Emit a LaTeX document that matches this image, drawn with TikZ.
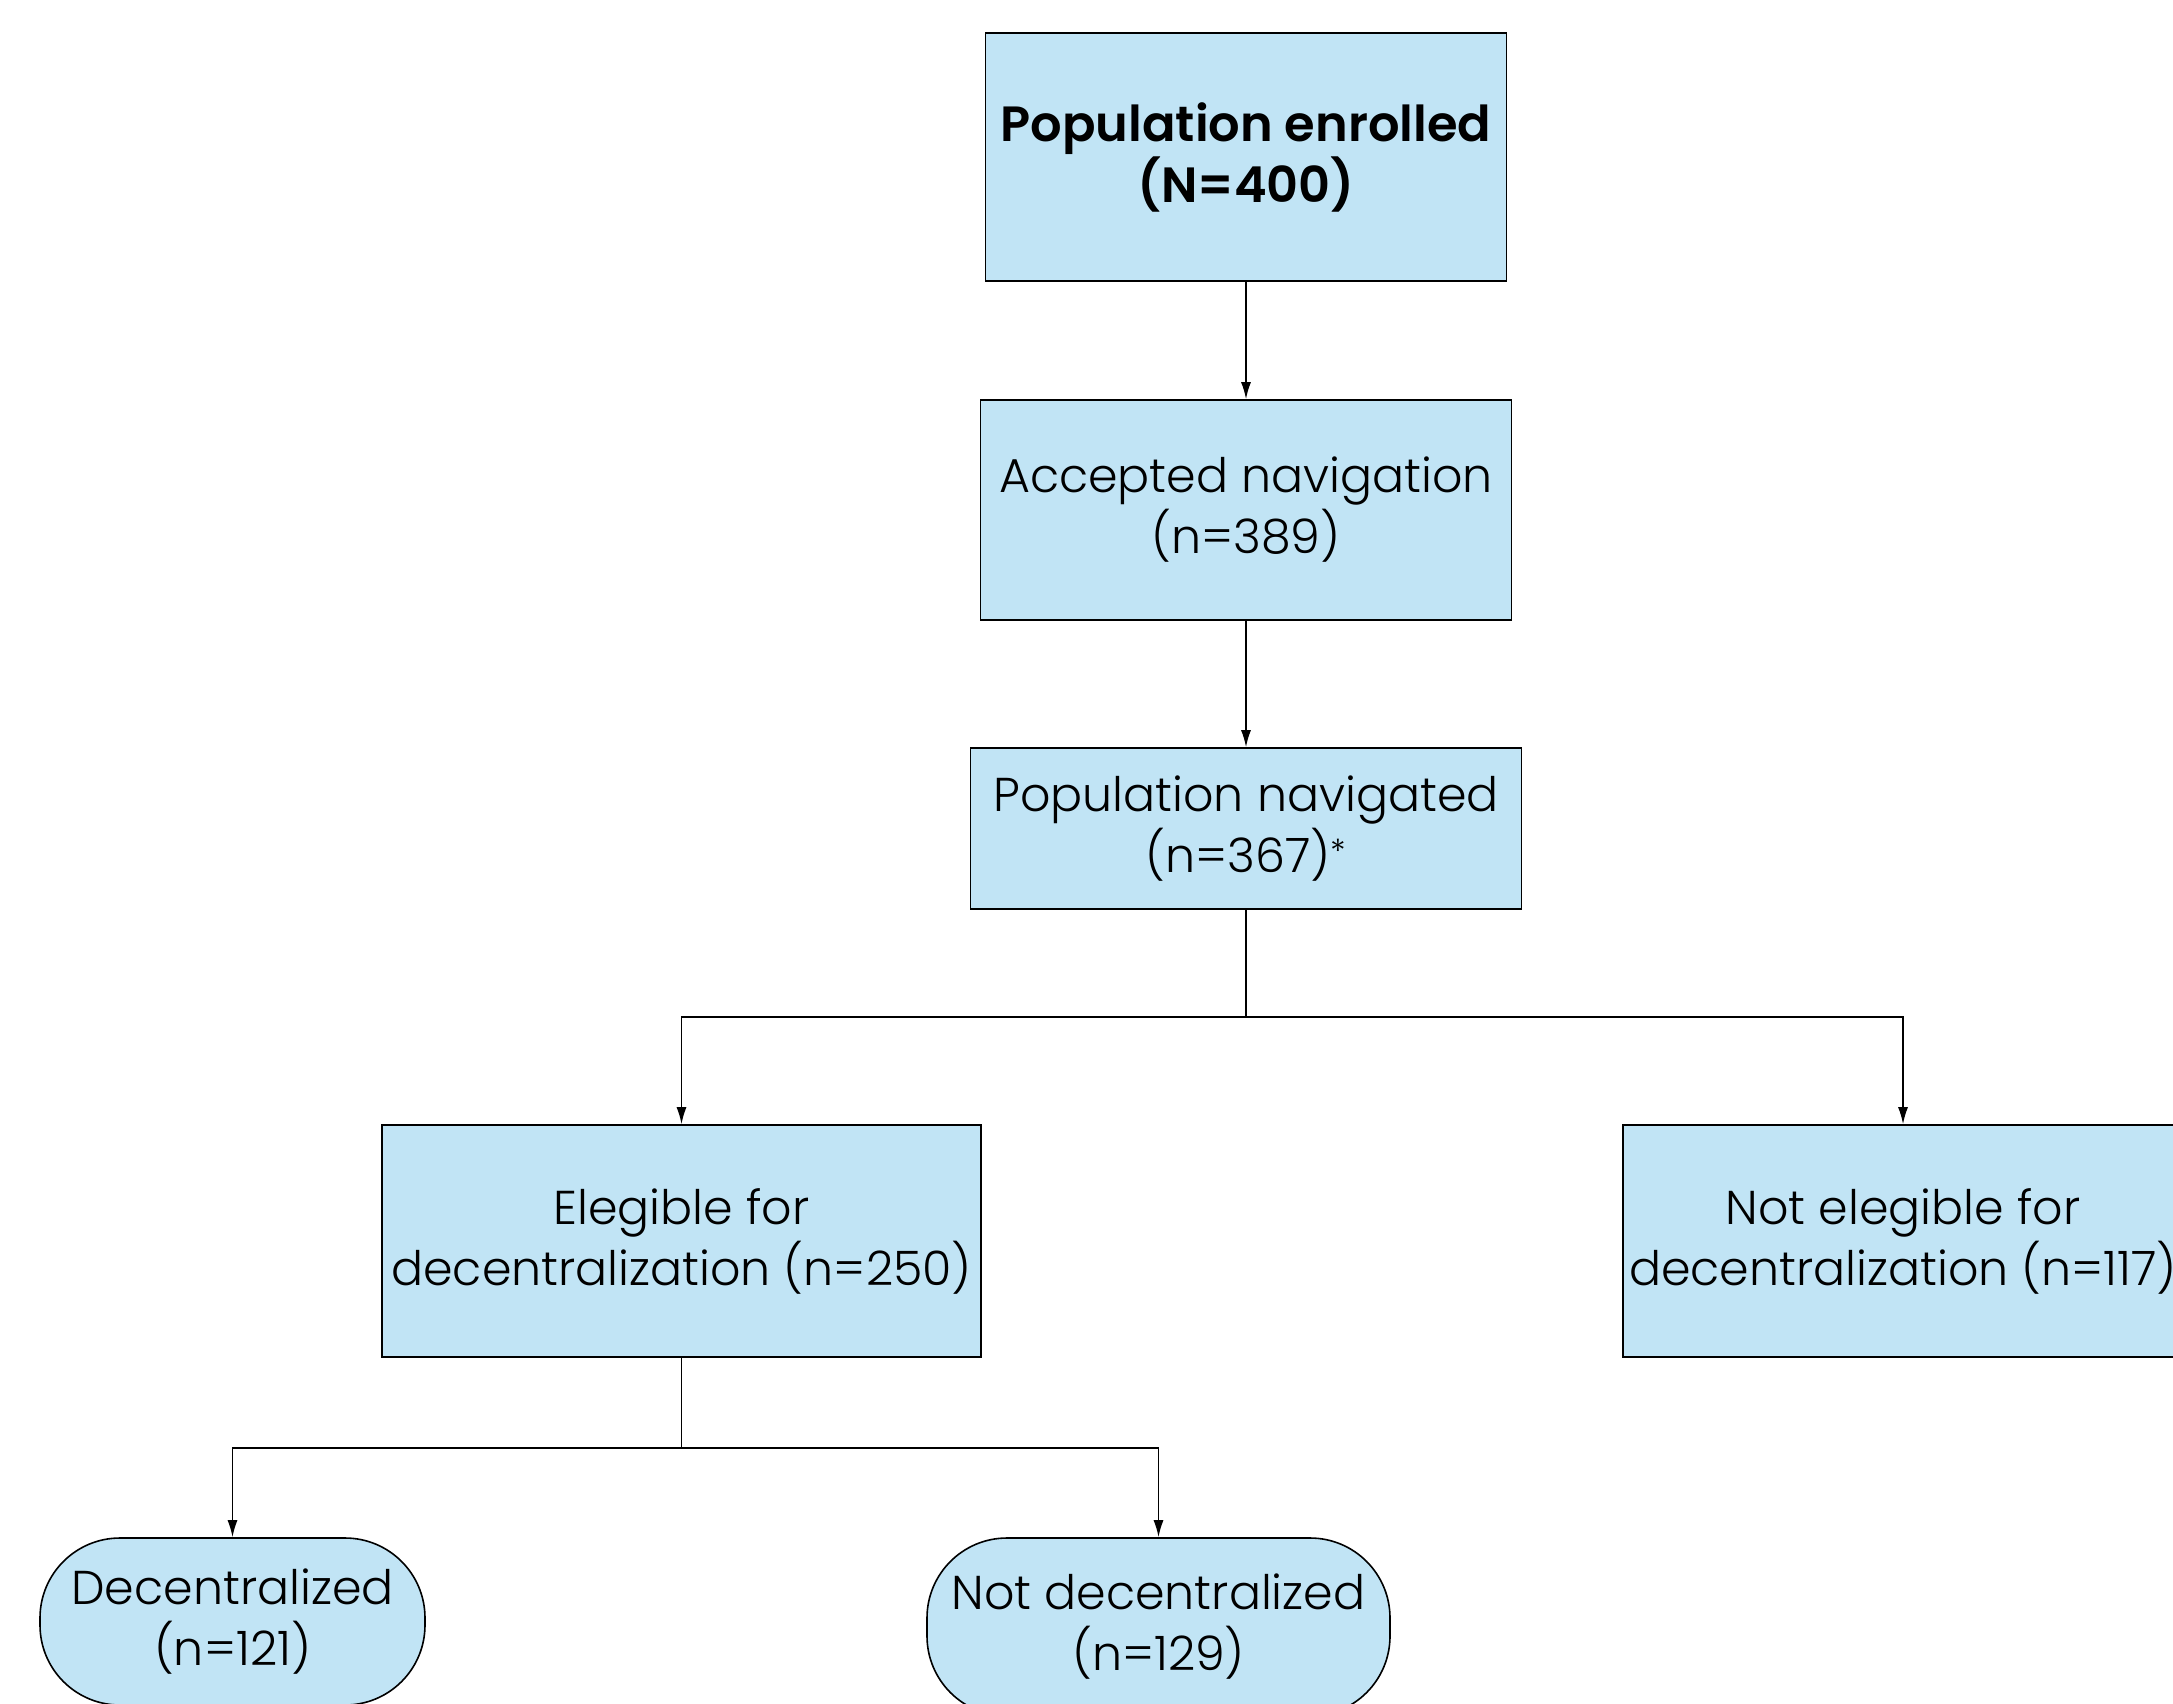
\documentclass[tikz,border=0pt]{standalone}
\usepackage{fontspec}
\setmainfont{Poppins}[UprightFont=* Light, BoldFont=* SemiBold]
\usetikzlibrary{arrows.meta}
\definecolor{boxblue}{RGB}{193,228,245}
\begin{document}
\begin{tikzpicture}[x=1pt,y=-1pt,
  box/.style={draw=black, line width=1.6pt, fill=boxblue, inner sep=0pt, align=center,
    font=\fontsize{47.5}{61}\selectfont},
  boldbox/.style={box, font=\fontsize{49.5}{61}\selectfont\bfseries},
  pill/.style={box, rounded corners=80pt},
  arr/.style={-{Latex[length=17pt,width=10pt]}, line width=1.6pt},
  ln/.style={line width=1.6pt}]
\useasboundingbox (0,0) rectangle (2173,1703);
\clip (0,0) rectangle (2173,1703);
\fill[white] (0,0) rectangle (2173,1703);
\node[boldbox, minimum width=521pt, minimum height=248pt] (top) at (1246,157) {Population enrolled\\(N=400)};
\node[box, minimum width=531pt, minimum height=220pt] (acc) at (1246,510) {Accepted navigation\\(n=389)};
\node[box, minimum width=551pt, minimum height=161pt] (nav) at (1246,828.5) {Population navigated\\(n=367)\textsuperscript{*}};
\node[box, minimum width=599pt, minimum height=232pt] (eleg) at (681.5,1241) {Elegible for\\decentralization (n=250)};
\node[box, minimum width=560pt, minimum height=232pt] (noteleg) at (1903,1241) {Not elegible for\\decentralization (n=117)};
\node[pill, minimum width=385pt, minimum height=167pt] (dec) at (232.5,1621.5) {Decentralized\\(n=121)};
\node[pill, minimum width=463pt, minimum height=178pt] (notdec) at (1158.5,1627) {Not decentralized\\(n=129)};
\coordinate (j1) at (1246,1017);
\coordinate (j2) at (681.5,1448);
\draw[arr] (top) -- (acc);
\draw[arr] (acc) -- (nav);
\draw[ln] (nav.south) -- (j1);
\draw[arr] (j1) -| (eleg.north);
\draw[arr] (j1) -| (noteleg.north);
\draw[ln] (eleg.south) -- (j2);
\draw[arr] (j2) -| (dec.north);
\draw[arr] (j2) -| (notdec.north);
\end{tikzpicture}
\end{document}
